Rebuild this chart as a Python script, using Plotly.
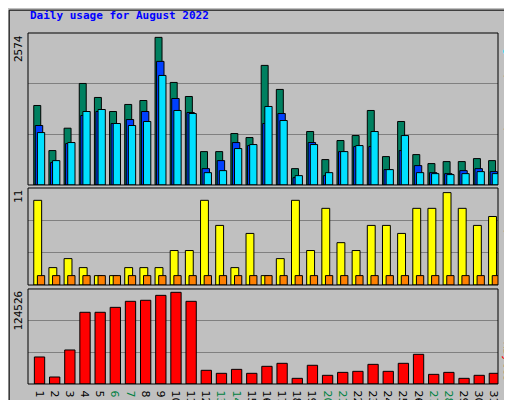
import plotly.graph_objects as go

days = list(range(1, 32))
hits = [1386,600,990,1770,1526,1281,1404,1473,2574,1788,1543,582,582,897,827,2085,1666,285,932,443,775,862,1299,495,1107,530,373,408,408,460,425]
files = [1037,390,722,1211,1281,1072,1141,1281,2155,1508,1264,285,425,740,687,1072,1246,128,740,163,582,670,670,268,600,338,215,198,250,285,233]
pages = [914,425,740,1281,1316,1072,1037,1107,1910,1299,1246,215,250,635,705,1369,1124,163,705,215,582,687,932,268,862,215,198,181,198,233,198]
visits = [11,2.26,3.43,2.26,1.22,1.22,2.26,2.26,2.26,4.48,4.48,11,7.74,2.26,6.7,1.22,3.43,11,4.48,9.96,5.5,4.48,7.74,7.74,6.7,9.96,9.96,12,9.96,7.74,8.9]
sites = [1.22]*31
kbytes = [36700,9500,46200,97400,97400,104100,112300,113700,120400,124526,112300,18600,14500,19900,14500,24000,28100,7700,25400,11800,15800,17200,26700,17200,28100,40300,13100,15800,7700,11800,14500]
weekend = {6,7,13,14,20,21,27,28}
tick_text = [f"<span style='color:#008040'>{d}</span>" if d in weekend else str(d) for d in days]

r1, r2, r3 = 2650, 12.6, 129048
fig = go.Figure()
line = dict(color="black", width=1)
def bar(y, color, off, w, ax):
    fig.add_trace(go.Bar(x=days, y=y, marker=dict(color=color, line=line), offset=off, width=w,
                         yaxis=ax, xaxis="x"))
bar(hits, "#008060", -0.48, 0.46, "y")
bar(files, "#0040FF", -0.38, 0.49, "y")
bar(pages, "#00E0FF", -0.24, 0.48, "y")
bar(visits, "#FFFF00", -0.48, 0.52, "y2")
bar(sites, "#FF8000", -0.24, 0.48, "y2")
bar(kbytes, "#FF0000", -0.44, 0.68, "y3")

d3 = (0, 0.2707); d2 = (0.282, 0.5584); d1 = (0.567, 1)
yax = dict(showticklabels=False, gridcolor="#808080", zeroline=False, showline=False,
           fixedrange=True, automargin=False, anchor="x")
fig.update_layout(
    width=512, height=400, showlegend=False, barmode="overlay",
    paper_bgcolor="#C0C0C0", plot_bgcolor="#C0C0C0",
    margin=dict(l=20, r=22, t=25, b=24, autoexpand=False),
    font=dict(family="DejaVu Sans Mono", size=11, color="black"),
    xaxis=dict(range=[0.14, 31.14], tickvals=days, ticktext=tick_text, showgrid=False,
               ticks="", zeroline=False, anchor="y3", automargin=False,
               tickfont=dict(size=11, family="DejaVu Sans")),
    yaxis=dict(domain=d1, range=[0, r1], tickvals=[r1/3, 2*r1/3], **yax),
    yaxis2=dict(domain=d2, range=[0, r2], tickvals=[r2/3, 2*r2/3], **yax),
    yaxis3=dict(domain=d3, range=[0, r3], tickvals=[r3/3, 2*r3/3], **yax),
)
shapes = []
for lo, hi in (d1, d2, d3):
    shapes.append(dict(type="rect", xref="paper", yref="paper", x0=0, x1=1, y0=lo, y1=hi,
                       line=dict(color="black", width=1)))
shapes.append(dict(type="rect", xref="paper", yref="paper", x0=-0.04, x1=1.04, y0=-0.065, y1=1.065,
                   line=dict(color="black", width=1)))
fig.update_layout(shapes=shapes)
ann = [
    dict(text="<b>Daily usage for August 2022</b>", x=-0.0, y=1.05, xanchor="left", yanchor="middle",
         font=dict(color="#0000FF", size=11, family="DejaVu Sans Mono")),
    dict(text="2574", x=-0.02, y=1.0, xanchor="center", yanchor="top", textangle=-90),
    dict(text="11", x=-0.02, y=d2[1], xanchor="center", yanchor="top", textangle=-90),
    dict(text="124526", x=-0.02, y=d3[1], xanchor="center", yanchor="top", textangle=-90),
    dict(text="<span style='color:#00E0FF'>Pages</span> / <span style='color:#0040FF'>Files</span> / <span style='color:#008060'>Hits</span>",
         x=1.022, y=1.0, xanchor="center", yanchor="top", textangle=90),
    dict(text="<span style='color:#FF8000'>Sites</span> / <span style='color:#FFFF00'>Visits</span>",
         x=1.022, y=d2[1], xanchor="center", yanchor="top", textangle=90),
    dict(text="<span style='color:#FF0000'>KBytes</span>",
         x=1.022, y=d3[0], xanchor="center", yanchor="bottom", textangle=90),
]
for a in ann:
    a.update(xref="paper", yref="paper", showarrow=False)
    a.setdefault("font", dict(size=11, family="DejaVu Sans Mono"))
fig.update_layout(annotations=ann)
fig.write_html("out.html")
